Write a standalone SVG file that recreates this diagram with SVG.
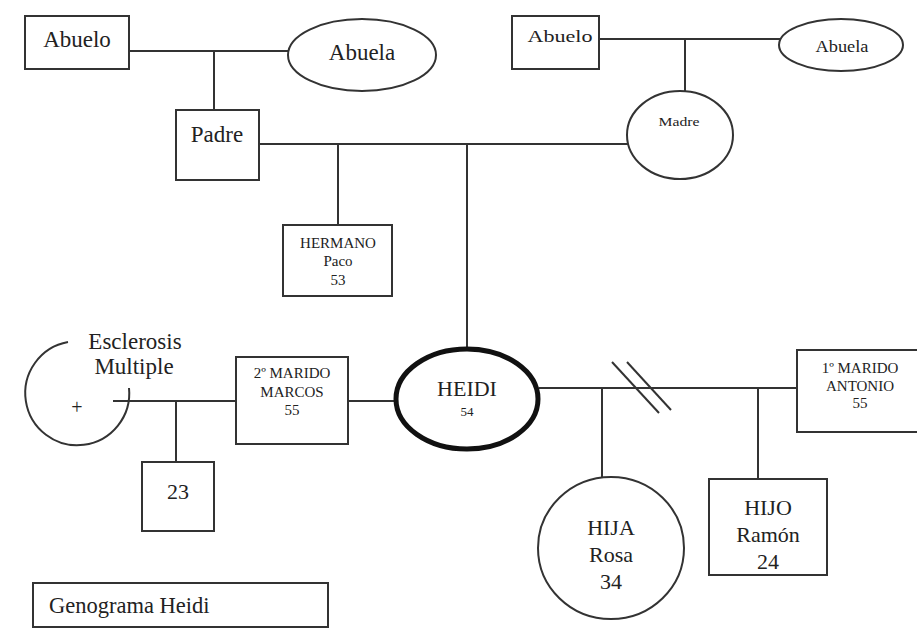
<svg xmlns="http://www.w3.org/2000/svg" width="917" height="629" viewBox="0 0 917 629">
<style>
.s{fill:#fff;stroke:#333;stroke-width:2}
.c line,.c path{stroke:#333;stroke-width:2;fill:none}
text{font-family:"Liberation Serif","Times New Roman",serif;fill:#222;text-anchor:middle}
.l{font-size:23px}.m{font-size:17px}.sm{font-size:15px}.b{font-size:22px}
</style>
<rect width="917" height="629" fill="#fff"/>
<g id="connectors" class="c">
<line x1="129" y1="51" x2="288" y2="51"/>
<line x1="214" y1="51" x2="214" y2="110"/>
<line x1="599" y1="39" x2="780" y2="39"/>
<line x1="685" y1="39" x2="685" y2="91"/>
<line x1="259" y1="144" x2="628" y2="144"/>
<line x1="338" y1="144" x2="338" y2="225"/>
<line x1="467" y1="144" x2="467" y2="348"/>
<line x1="113" y1="401" x2="236" y2="401"/>
<line x1="176" y1="401" x2="176" y2="462"/>
<line x1="348" y1="401" x2="396" y2="401"/>
<line x1="539" y1="388" x2="797" y2="388"/>
<line x1="602" y1="388" x2="602" y2="477"/>
<line x1="758" y1="388" x2="758" y2="479"/>
<line x1="612" y1="362" x2="659" y2="413"/>
<line x1="627" y1="362" x2="671" y2="410"/>
</g>
<g id="abuelo1"><rect class="s" x="25" y="16" width="104" height="53"/><text class="l" x="77" y="47">Abuelo</text></g>
<g id="abuela1"><ellipse class="s" cx="362" cy="55" rx="74" ry="36"/><text class="l" x="362" y="60">Abuela</text></g>
<g id="padre"><rect class="s" x="176" y="110" width="83" height="70"/><text class="l" x="217" y="142">Padre</text></g>
<g id="abuelo2"><rect class="s" x="512" y="16" width="87" height="53"/><text class="m" x="560" y="42" textLength="65" lengthAdjust="spacingAndGlyphs">Abuelo</text></g>
<g id="abuela2"><ellipse class="s" cx="841" cy="45" rx="62" ry="26"/><text class="m" x="842" y="52" textLength="53" lengthAdjust="spacingAndGlyphs">Abuela</text></g>
<g id="madre"><ellipse class="s" cx="680" cy="135" rx="53" ry="44"/><text class="sm" x="679" y="126" textLength="41" lengthAdjust="spacingAndGlyphs" style="font-size:13px">Madre</text></g>
<g id="hermano"><rect class="s" x="283" y="225" width="109" height="71"/><text class="sm" x="338" y="248">HERMANO</text><text class="sm" x="338" y="266">Paco</text><text class="sm" x="338" y="285">53</text></g>
<g id="esclerosis"><path d="M68 342 A52 52 0 1 0 129 388" fill="none" stroke="#333" stroke-width="2"/><text x="77" y="414" style="font-size:20px">+</text><text class="l" x="135" y="349">Esclerosis</text><text class="l" x="134" y="374">Multiple</text></g>
<g id="marido2"><rect class="s" x="236" y="357" width="112" height="87"/><text class="sm" x="292" y="378">2º MARIDO</text><text class="sm" x="292" y="397">MARCOS</text><text class="sm" x="292" y="415">55</text></g>
<g id="hijo23"><rect class="s" x="142" y="462" width="72" height="69"/><text x="178" y="499" style="font-size:22px">23</text></g>
<g id="heidi"><ellipse cx="467" cy="399" rx="71" ry="50" fill="#fff" stroke="#111" stroke-width="5"/><text class="b" x="467" y="396">HEIDI</text><text class="sm" x="467" y="416" style="font-size:13px">54</text></g>
<g id="marido1"><rect class="s" x="797" y="350" width="125" height="82"/><text class="sm" x="860" y="373">1º MARIDO</text><text class="sm" x="860" y="391">ANTONIO</text><text class="sm" x="860" y="408">55</text></g>
<g id="hija"><ellipse class="s" cx="611" cy="548" rx="73" ry="71"/><text class="b" x="611" y="535">HIJA</text><text class="b" x="611" y="562">Rosa</text><text class="b" x="611" y="589">34</text></g>
<g id="hijo"><rect class="s" x="709" y="479" width="118" height="96"/><text class="b" x="768" y="515">HIJO</text><text class="b" x="768" y="542">Ramón</text><text class="b" x="768" y="569">24</text></g>
<g id="titulo"><rect class="s" x="33" y="583" width="295" height="44"/><text x="49" y="613" style="text-anchor:start;font-size:22.5px">Genograma Heidi</text></g>
</svg>
